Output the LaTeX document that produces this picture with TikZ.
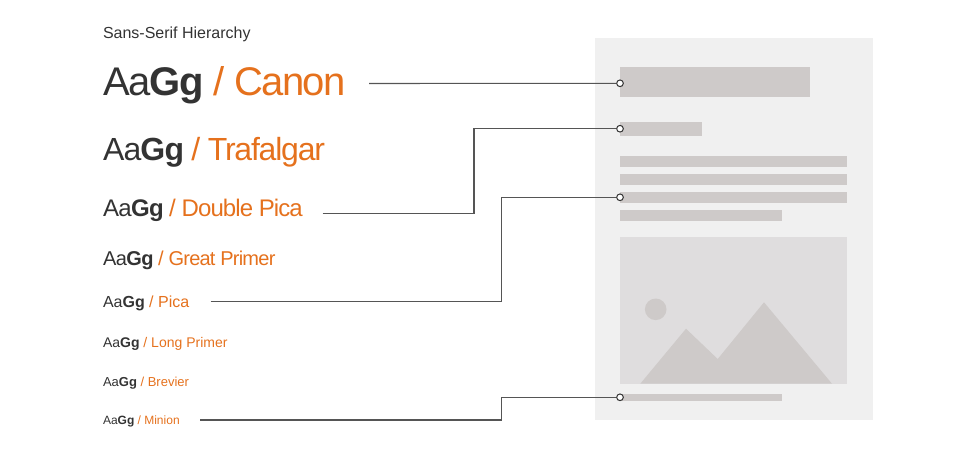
\documentclass[tikz,border=0pt]{standalone}
\usepackage{fontspec}
\setmainfont{Liberation Sans}
\newfontfamily\tightfam[LetterSpace=-2.6]{Liberation Sans}
\newfontfamily\tighterfam[LetterSpace=-3.8]{Liberation Sans}
\definecolor{ink}{HTML}{333333}
\definecolor{org}{HTML}{E5711D}
\definecolor{pagebg}{HTML}{F0F0F0}
\definecolor{bar}{HTML}{CECAC9}
\definecolor{imgbg}{HTML}{DFDDDE}
\definecolor{wire}{HTML}{555555}
\newcommand{\samp}[2]{\fontsize{#1}{#1}\selectfont\textcolor{ink}{Aa\textbf{Gg}} \textcolor{org}{/ #2}}
\newcommand{\samptight}[2]{\fontsize{#1}{#1}\selectfont{\tightfam\textcolor{ink}{Aa\textbf{Gg}} }{\tighterfam\textcolor{org}{/ #2}}}
\tikzset{
 x=0.75pt,y=-0.75pt,
 lbl/.style={anchor=base west,inner sep=0pt,outer sep=0pt},
 wirel/.style={draw=wire,line width=0.8pt},
 dot/.style={circle,draw=ink,fill=white,line width=0.75pt,minimum size=5pt,inner sep=0pt},
 barbox/.style={fill=bar,draw=none},
}
\begin{document}
\begin{tikzpicture}
\useasboundingbox (0,0) rectangle (976,455);
\fill[pagebg] (595,38) rectangle (873.3,420);
\fill[barbox] (620,67) rectangle (810,97);
\fill[barbox] (620,122) rectangle (702,136);
\fill[barbox] (620,156.3) rectangle (847,166.7);
\fill[barbox] (620,174.3) rectangle (847,184.7);
\fill[barbox] (620,192.3) rectangle (847,202.7);
\fill[barbox] (620,210.3) rectangle (781.7,220.7);
\fill[imgbg] (620,237) rectangle (847,383.7);
\fill[barbox] (655.7,309.3) circle (10.8);
\fill[barbox] (640.3,383.7) -- (686,328.7) -- (717.7,359) -- (764,302.3) -- (832,383.7) -- cycle;
\fill[barbox] (620,394) rectangle (781.7,400.7);

\node[lbl] (title) at (103,38) {\fontsize{12}{12}\selectfont\textcolor{ink}{Sans-Serif Hierarchy}};
\node[lbl] (canon) at (103,95.5) {\samptight{30}{Canon}};
\node[lbl] (traf) at (103,160) {\samptight{24}{Trafalgar}};
\node[lbl] (dpica) at (103,216.5) {\samptight{18}{Double Pica}};
\node[lbl] (gp) at (103,265) {\samptight{15}{Great Primer}};
\node[lbl] (pica) at (103,307) {\samp{12}{Pica}};
\node[lbl] (lp) at (103,347) {\samp{10.5}{Long Primer}};
\node[lbl] (brev) at (103,386) {\samp{9.75}{Brevier}};
\node[lbl] (min) at (103,424) {\samp{9}{Minion}};

\coordinate (c1) at (369,83.5);
\coordinate (c2) at (322.5,213.5);
\coordinate (c3) at (210.5,301.5);
\coordinate (c4) at (200,420);
\node[dot] (d1) at (620,83.3) {};
\node[dot] (d2) at (620,128.7) {};
\node[dot] (d3) at (620,197.3) {};
\node[dot] (d4) at (620,397.3) {};
\draw[wirel] (c1) -- (d1);
\draw[wirel] (c2) -- (474,213.5) -- (474,128.7) -- (d2);
\draw[wirel] (c3) -- (501.5,301.5) -- (501.5,197.3) -- (d3);
\draw[wirel] (c4) -- (501.5,420) -- (501.5,397.3) -- (d4);
\end{tikzpicture}
\end{document}
